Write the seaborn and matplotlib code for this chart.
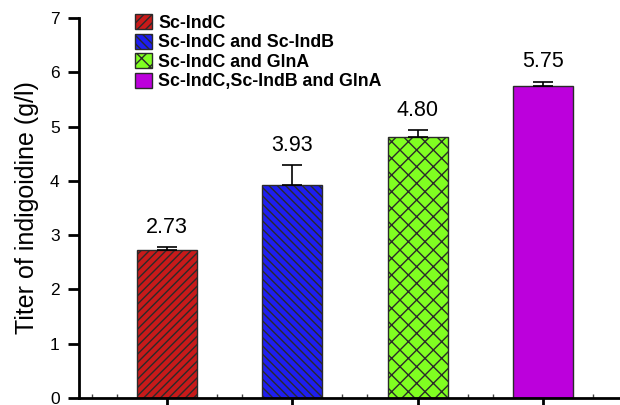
import matplotlib
matplotlib.use("Agg")
import matplotlib.pyplot as plt
import seaborn as sns
import pandas as pd
import numpy as np
from matplotlib.ticker import FixedLocator

# ---- data ----
categories = ["Sc-IndC", "Sc-IndC and Sc-IndB", "Sc-IndC and GlnA", "Sc-IndC,Sc-IndB and GlnA"]
titers = [2.73, 3.93, 4.80, 5.75]
errors = [0.05, 0.36, 0.14, 0.08]
value_labels = ["2.73", "3.93", "4.80", "5.75"]
colors = ["#C81A1A", "#1E1EF0", "#80FF21", "#BC00DC"]
hatches = ["////", "\\\\\\\\", "xx", ""]
y_ticks = [0, 1, 2, 3, 4, 5, 6, 7]

sns.set_theme(style="ticks")
plt.rcParams["font.family"] = ["Liberation Sans", "DejaVu Sans"]
plt.rcParams["hatch.linewidth"] = 1.0

df = pd.DataFrame({"cat": categories, "titer": titers})

fig = plt.figure(figsize=(6.2, 4.05), dpi=100)
ax = fig.add_axes([79 / 620, 7 / 405, 1 - 79 / 620, (398 - 18) / 405])

sns.barplot(data=df, x="cat", y="titer", hue="cat", palette=colors,
            order=categories, hue_order=categories, width=60 / 125.5,
            errorbar=None, edgecolor="#2a2a2a", linewidth=1.0,
            legend=False, saturation=1, ax=ax)

handles = []
for cont, h in zip(ax.containers, hatches):
    for bar in cont:
        bar.set_hatch(h)
        handles.append(bar)

xs = np.arange(len(categories))
ax.errorbar(xs, titers, yerr=[np.zeros(len(errors)), errors], fmt="none",
            ecolor="black", elinewidth=1.2, capsize=7, capthick=1.2, zorder=3)

for x, v, e, lab in zip(xs, titers, errors, value_labels):
    ax.text(x, v + e + 0.26, lab, ha="center", va="baseline", fontsize=15.5,
            color="black")

ax.set_xlim(-0.70, 3.614)
ax.set_ylim(0, 7)
ax.set_yticks(y_ticks)
ax.set_yticklabels([str(t) for t in y_ticks], fontsize=12.5)
ax.set_xticks(xs)
ax.set_xticklabels([""] * len(xs))
ax.xaxis.set_minor_locator(FixedLocator([-0.6, -0.4, 0.4, 0.6, 1.4, 1.6, 2.4, 2.6, 3.4]))
ax.tick_params(axis="x", which="major", direction="out", length=10, width=2, color="black")
ax.tick_params(axis="x", which="minor", direction="in", length=3, width=1, color="#444444")
ax.tick_params(axis="y", which="major", direction="out", length=8, width=2,
               color="black", pad=6, labelcolor="black")
ax.set_xlabel("")
ax.set_ylabel("Titer of indigoidine (g/l)", fontsize=18, color="black", labelpad=8)

for s in ["top", "right"]:
    ax.spines[s].set_visible(False)
for s in ["left", "bottom"]:
    ax.spines[s].set_linewidth(2)
    ax.spines[s].set_color("black")

leg = ax.legend(handles=handles, labels=categories, loc="upper left",
                bbox_to_anchor=(135 / 620, 1 - 14 / 405), bbox_transform=fig.transFigure,
                frameon=False, borderpad=0, borderaxespad=0, labelspacing=0.1,
                handlelength=0.95, handleheight=0.95, handletextpad=0.35,
                prop={"weight": "bold", "size": 12.8})
for t in leg.get_texts():
    t.set_color("black")

fig.savefig("out.png", dpi=100)
